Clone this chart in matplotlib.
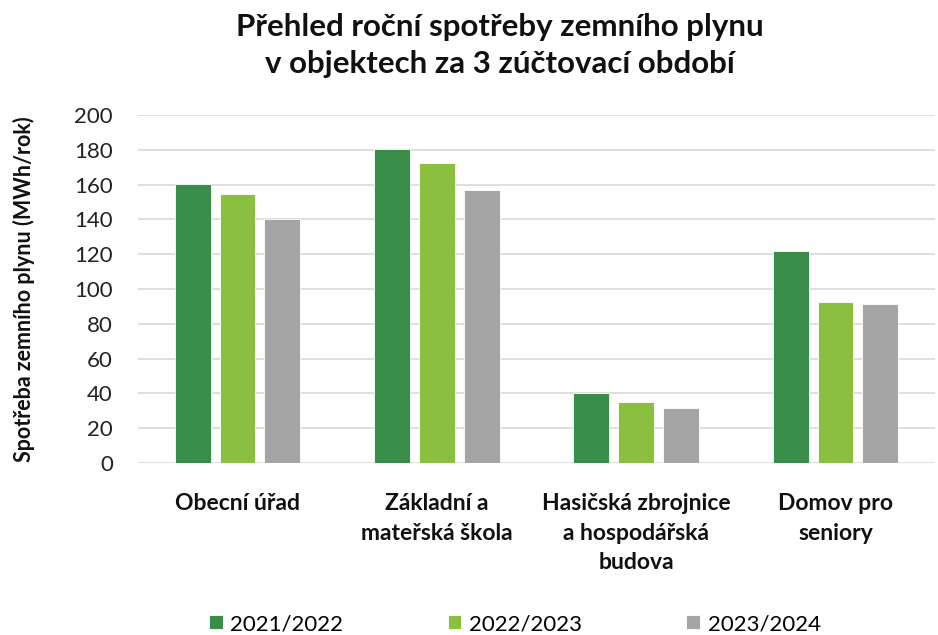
import matplotlib
matplotlib.use("Agg")
import matplotlib.pyplot as plt
import numpy as np

categories = ["Obecní úřad", "Základní a\nmateřská škola", "Hasičská zbrojnice\na hospodářská\nbudova", "Domov pro\nseniory"]
series_names = ["2021/2022", "2022/2023", "2023/2024"]
v2122 = [160.5, 180.6, 40.0, 121.7]
v2223 = [154.6, 172.2, 34.9, 92.5]
v2324 = [140.4, 157.1, 31.7, 91.2]
colors = ["#388E48", "#8BBF40", "#A5A5A5"]
yticks = [0, 20, 40, 60, 80, 100, 120, 140, 160, 180, 200]

plt.rcParams['font.family'] = ['Lato', 'DejaVu Sans']

fig = plt.figure(figsize=(9.38, 6.35), dpi=100)
ax = fig.add_axes([0.147, 0.271, 0.85, 0.548])

x = np.arange(len(categories))
w = 0.18
step = 0.225
for i, (vals, name) in enumerate(zip([v2122, v2223, v2324], series_names)):
    ax.bar(x + (i - 1) * step, vals, width=w, color=colors[i], label=name,
           edgecolor="#FFFFFF", linewidth=0.6, zorder=3)

ax.set_xlim(-0.5, 3.5)
ax.set_ylim(0, 200)
ax.set_yticks(yticks)
ax.set_yticklabels([str(t) for t in yticks], fontsize=16, color="#222222")
ax.set_xticks(x)
ax.set_xticklabels(categories, fontsize=16.5, fontweight="bold", color="#111111", linespacing=1.5)
ax.tick_params(axis="both", length=0)
ax.tick_params(axis="x", pad=22)
ax.tick_params(axis="y", pad=18)
ax.grid(axis="y", color="#D9D9D9", linewidth=1.2, zorder=0)
for s in ax.spines.values():
    s.set_visible(False)

ax.set_ylabel("Spotřeba zemního plynu (MWh/rok)", fontsize=15.5, fontweight="bold", color="#111111", labelpad=28)

fig.text(0.533, 0.98, "Přehled roční spotřeby zemního plynu\nv objektech za 3 zúčtovací období",
         ha="center", va="top", fontsize=22.5, fontweight="bold", color="#111111", linespacing=1.4)

leg = fig.legend(loc="lower center", bbox_to_anchor=(0.549, -0.03), ncol=3, frameon=False,
                 fontsize=16, handlelength=0.6, handleheight=0.6, handletextpad=0.35, columnspacing=4.7)

fig.savefig("out.png", dpi=100)
